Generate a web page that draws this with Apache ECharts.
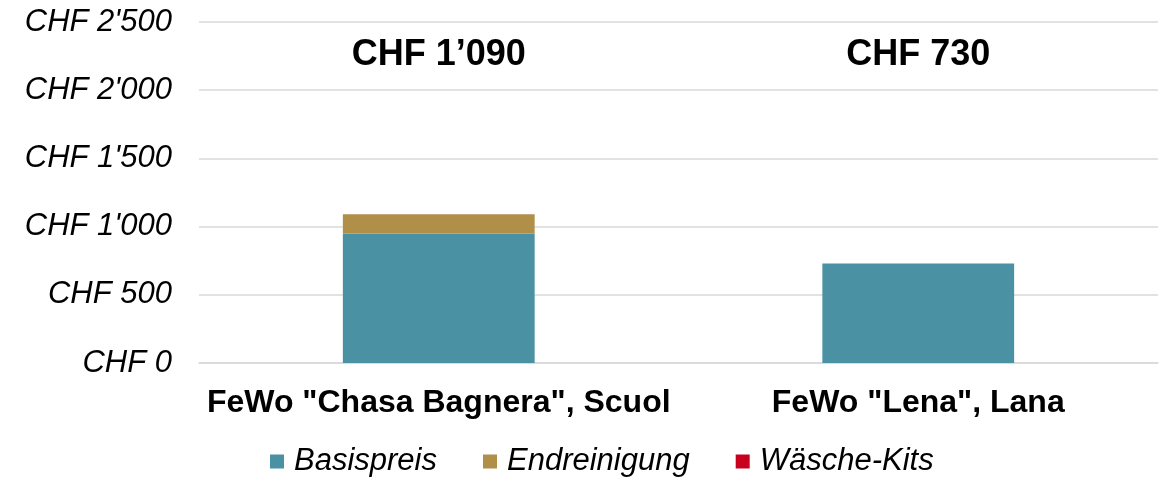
<!DOCTYPE html>
<html>
<head>
<meta charset="utf-8">
<script src="https://cdn.jsdelivr.net/npm/echarts@6/dist/echarts.min.js"></script>
<style>
html,body{margin:0;padding:0;background:#fff;}
#chart{width:1171px;height:477px;}
</style>
</head>
<body>
<div id="chart"></div>
<script>
const categories = ['FeWo "Chasa Bagnera", Scuol', 'FeWo "Lena", Lana'];
const basispreis = [950, 730];
const endreinigung = [140, 0];
const waescheKits = [0, 0];
const yTicks = [0, 500, 1000, 1500, 2000, 2500];
const seriesNames = ['Basispreis', 'Endreinigung', 'Wäsche-Kits'];
const totalLabelLevel = 2255;

const FONT = '"Liberation Sans", Arial, sans-serif';
function fmt(v, sep) {
  return String(v).replace(/\B(?=(\d{3})+(?!\d))/g, sep);
}
const totals = categories.map((c, i) => basispreis[i] + endreinigung[i] + waescheKits[i]);

const chart = echarts.init(document.getElementById('chart'));
chart.setOption({
  animation: false,
  grid: { left: 199, right: 13, top: 22, bottom: 114 },
  legend: {
    data: seriesNames,
    bottom: -5,
    left: 265,
    itemWidth: 14,
    itemHeight: 14,
    itemGap: 46,
    icon: 'rect',
    textStyle: { fontFamily: FONT, fontStyle: 'italic', fontSize: 31, color: '#000', padding: [0, 0, 0, 5] }
  },
  xAxis: {
    type: 'category',
    data: categories,
    axisTick: { show: false },
    axisLine: { lineStyle: { color: '#D9D9D9', width: 1.5 } },
    axisLabel: { interval: 0, fontFamily: FONT, fontWeight: 'bold', fontSize: 32, color: '#000', margin: 24 }
  },
  yAxis: {
    type: 'value',
    min: yTicks[0],
    max: yTicks[yTicks.length - 1],
    interval: yTicks[1] - yTicks[0],
    axisLine: { show: false },
    axisTick: { show: false },
    splitLine: { lineStyle: { color: '#D9D9D9', width: 1.5 } },
    axisLabel: {
      fontFamily: FONT, fontStyle: 'italic', fontSize: 31, color: '#000', margin: 27,
      formatter: v => 'CHF ' + fmt(v, "'")
    }
  },
  series: [
    { name: seriesNames[0], type: 'bar', stack: 'total', barWidth: '40%', data: basispreis, itemStyle: { color: '#4A92A3' } },
    { name: seriesNames[1], type: 'bar', stack: 'total', barWidth: '40%', data: endreinigung, itemStyle: { color: '#B08F48' } },
    { name: seriesNames[2], type: 'bar', stack: 'total', barWidth: '40%', data: waescheKits, itemStyle: { color: '#C8001E' } },
    {
      name: 'totals', type: 'scatter', symbolSize: 0, silent: true,
      itemStyle: { opacity: 1 },
      data: categories.map((c, i) => [c, totalLabelLevel, totals[i]]),
      label: {
        show: true, position: 'inside',
        fontFamily: FONT, fontWeight: 'bold', fontSize: 36, color: '#000', textBorderWidth: 0,
        formatter: p => 'CHF ' + fmt(p.data[2], '\u2019')
      }
    }
  ]
});
</script>
</body>
</html>
